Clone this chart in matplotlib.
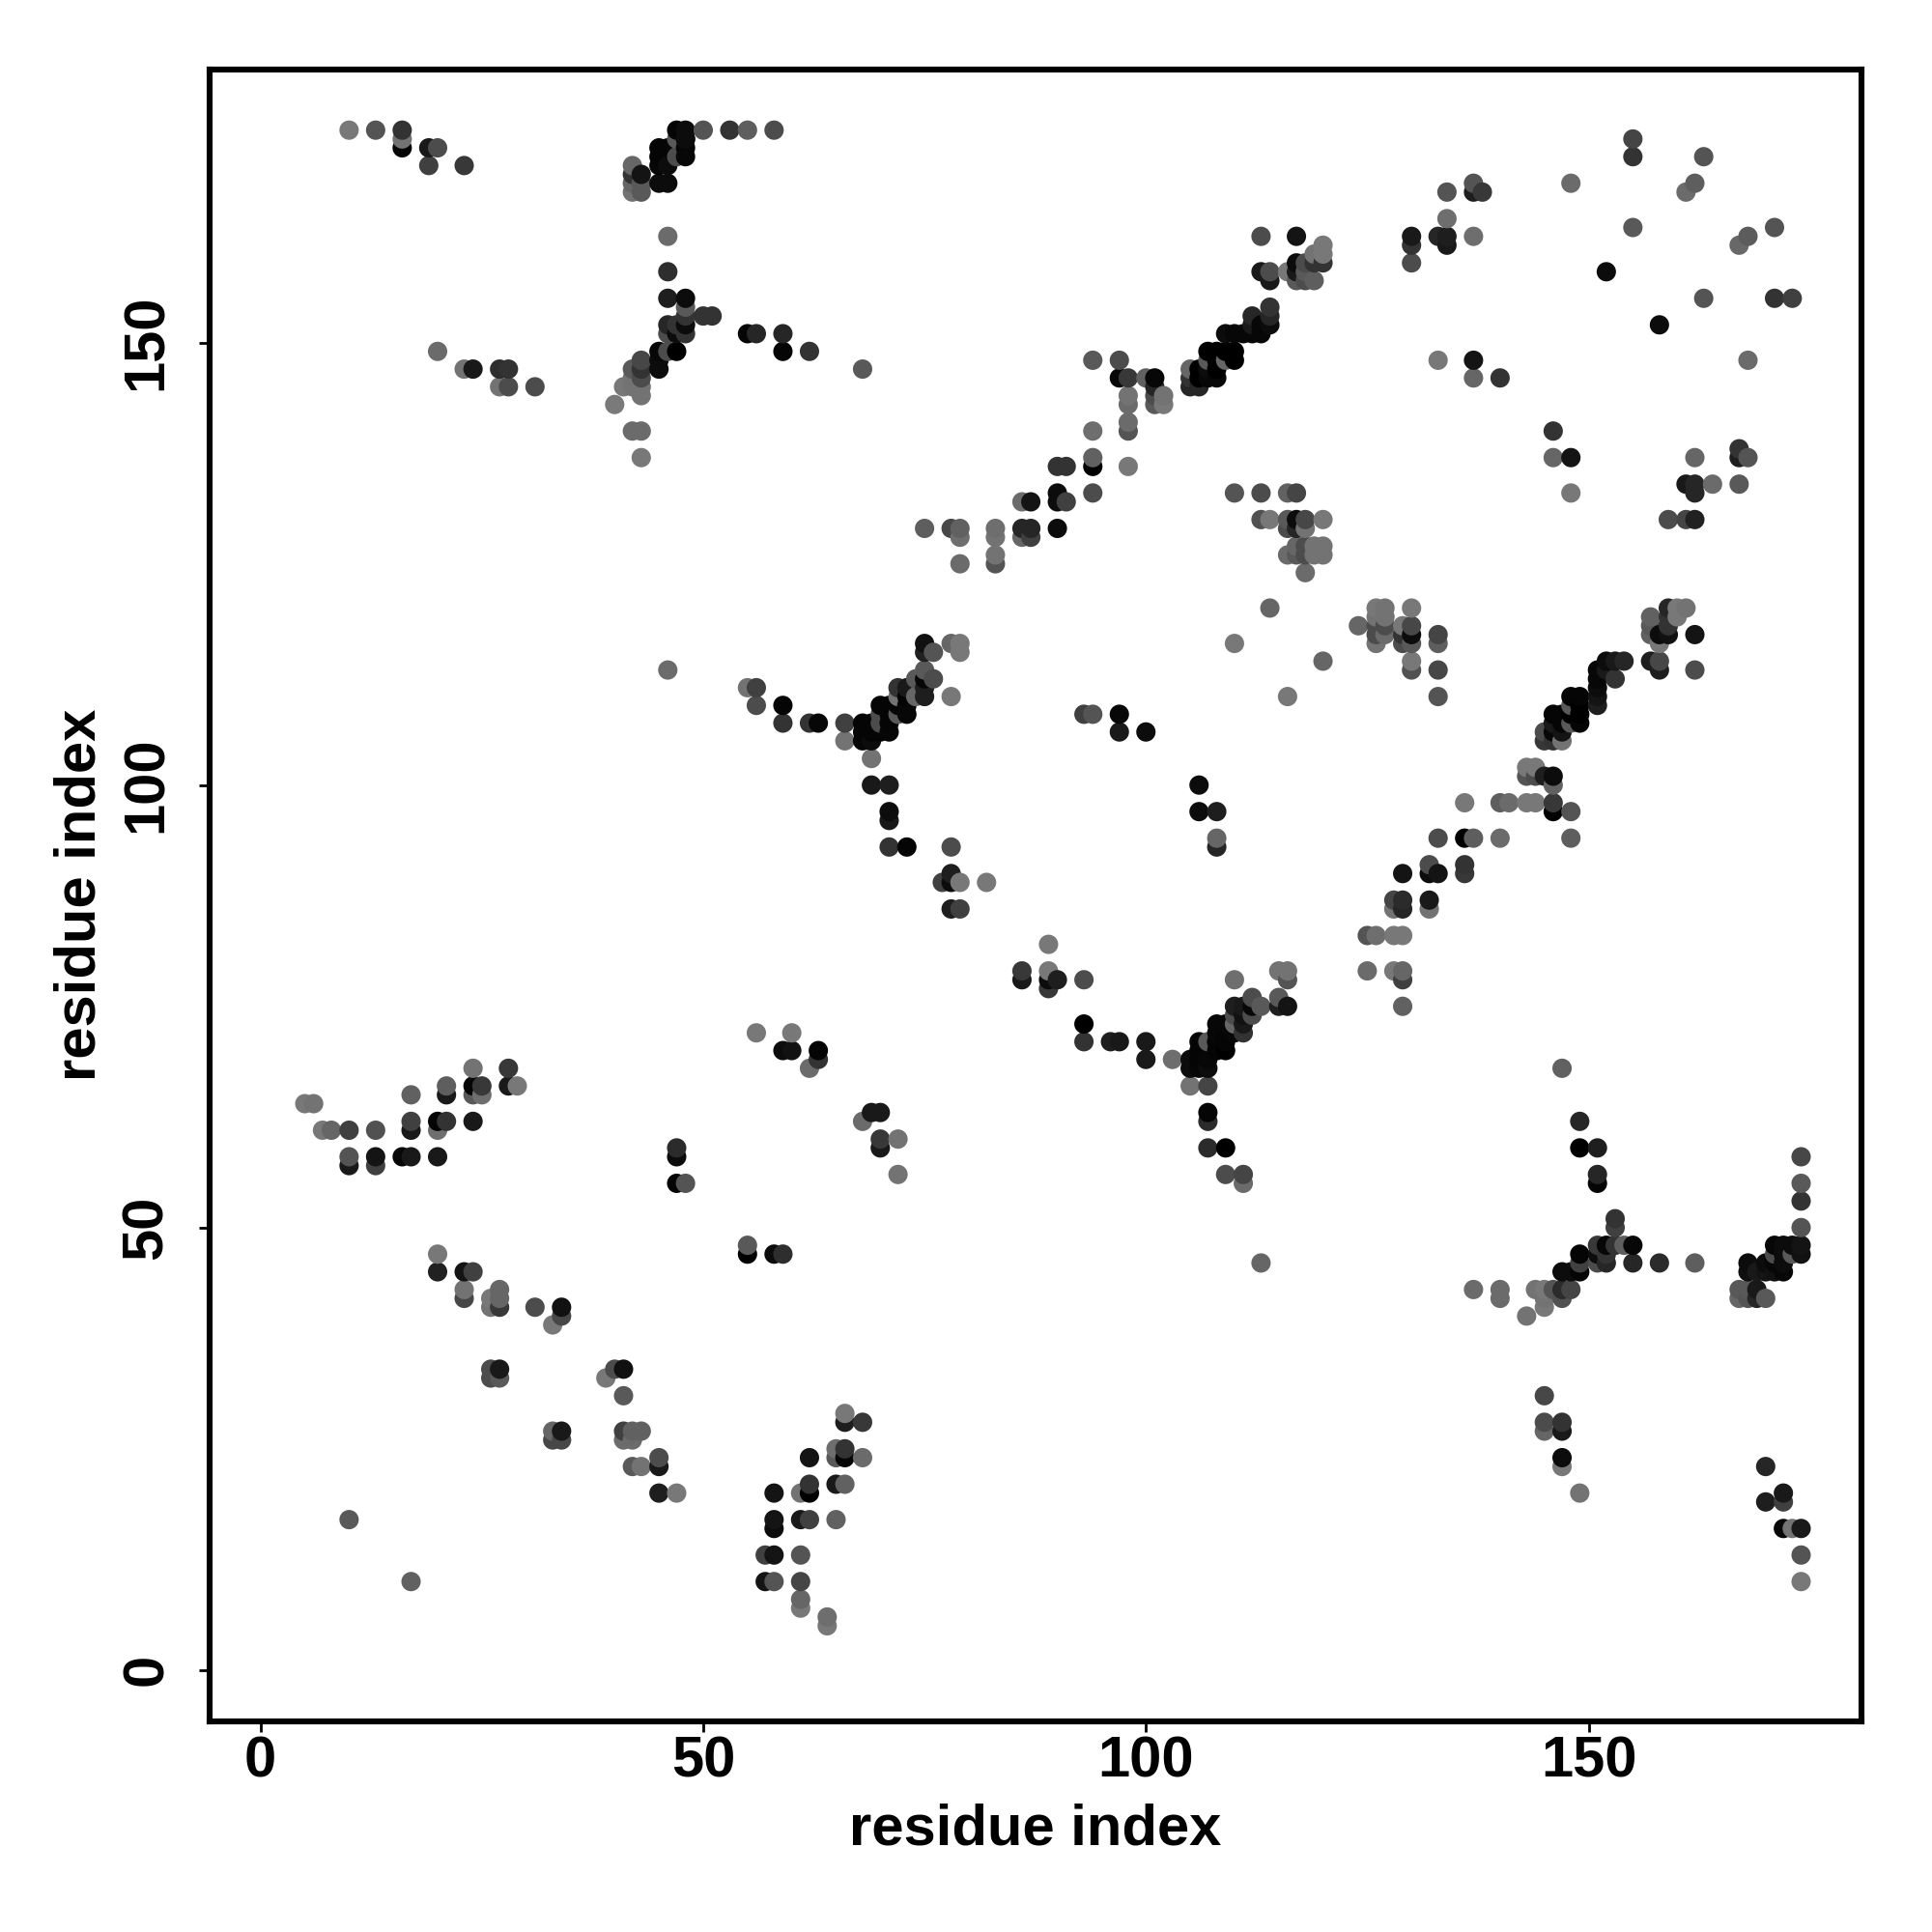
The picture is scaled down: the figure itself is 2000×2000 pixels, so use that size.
import numpy as np
import matplotlib
matplotlib.use('Agg')
import matplotlib.pyplot as plt

plt.rcParams['font.family'] = ['Liberation Sans', 'DejaVu Sans']

# contacts. shade: 0 black .. 1 white
top_left_x = [10,13,16,16,16,19,20,19,23, 20,23,24,27,28,27,28,31]
top_left_y = [174,174,174,173,172,172,172,170,170, 149,147,147,147,147,145,145,145]
top_left_s = [.47,.33,.2,.45,.02,.1,.3,.25,.22, .42,.45,.1,.18,.2,.45,.3,.3]

top_mid_x = [47,48,50,53,55,58,47,48,48,48,48,47,45,46,45,45,46,45,46,
             42,42,43,42,43,42,43,46,46,46,48,48,48,50,51,46,47,48,46,47,48,55,56,59,59,62,68,
             45,46,47,45,45,43,42,43,43,42,41,42,43,43,40,42,43,43]
top_mid_y = [174,174,174,174,174,174,173,173,172,171,173,171,172,172,171,170,170,168,168,
             170,169,169,168,168,167,167,162,158,155,155,154,153,153,153,152,152,152,151,151,151,151,151,151,149,149,147,
             149,149,149,148,147,148,147,147,146,146,145,145,145,144,143,140,140,137]
top_mid_s = [.02,.05,.33,.2,.37,.3,.35,.05,.03,.03,.05,.3,.02,.02,.02,.03,.05,.05,.05,
             .4,.2,.08,.4,.35,.45,.35,.42,.18,.12,.05,.35,.2,.2,.2,.15,.2,.05,.3,.05,.2,.02,.15,.15,.02,.2,.35,
             .03,.3,.0,.05,.05,.28,.35,.2,.3,.45,.47,.45,.45,.45,.48,.42,.42,.47]

upper_diag_x = [75,78,79,79,79,83,83,83,83,86,87,86,87,86,87,90,90,91,90,90,91,94,94,94,94,98,98,98,98,98,98,97,97,94,
                100,101,101,101,101,102,102,105,105,105,106,106,106,107,107,108,108,107,107,108,108,109,109,110,110]
upper_diag_y = [129,129,129,128,125,129,128,126,125,132,132,129,129,128,128,133,132,132,129,136,136,136,137,140,133,136,140,141,143,144,146,146,148,148,
                146,146,145,144,143,144,143,147,146,145,145,147,146,146,147,146,147,148,149,149,148,149,148,149,148]
upper_diag_s = [.37,.28,.38,.43,.42,.43,.45,.45,.33,.42,.08,.15,.15,.4,.25,.05,.05,.25,.05,.2,.2,0,.38,.43,.3,.47,.33,.42,.42,.45,.22,.03,.3,.35,
                .38,.03,.15,.3,.35,.45,.47,.4,.2,.15,.15,0,0,.03,.05,.03,0,.35,0,0,0,0,.4,0,0]

upper_tail_x = [109,110,111,112,113,112,112,113,114,114,114,113,114,114,113,117,116,117,117,117,118,118,118,119,119,119,120,120,120]
upper_tail_y = [151,151,151,151,151,153,152,152,152,153,154,158,158,157,162,162,158,159,158,157,159,158,157,160,159,157,161,160,159]
upper_tail_s = [.05,.03,.03,.03,.03,.15,.1,.03,.05,.15,.2,.1,.3,.1,.3,.08,.47,.05,.1,.35,.3,.35,.3,.45,.2,.37,.47,.47,.2]

block_x = [110,113,116,117,148,113,114,116,117,118,120,116,117,118,117,118,119,120,116,117,118,119,120,118,114,110,120,116]
block_y = [133,133,133,133,133,130,130,130,130,130,130,129,129,129,127,127,127,127,126,126,126,126,126,124,120,116,114,110]
block_s = [.33,.3,.38,.27,.47,.32,.47,.35,.05,.28,.47,.3,.15,.45,.4,.3,.45,.45,.42,.35,.3,.45,.45,.42,.4,.47,.4,.47]

block2_x = [124,126,127,130,126,127,126,127,126,127,126,129,130,129,130,129,130,133,133,130,130,133,133]
block2_y = [118,120,120,120,119,119,118,118,117,117,116,118,118,117,117,116,116,117,116,114,113,113,110]
block2_s = [.4,.47,.45,.47,.45,.45,.3,.3,.3,.42,.45,.47,.28,.2,.05,.3,.35,.27,.37,.47,.32,.28,.33]

right_diag_x = [159,160,161,157,159,160,157,159,157,158,159,162,158,157,158,158,162,152,153,154,151,152,151,153,151,151,151,
                148,149,148,149,149,148,148,149,146,147,146,147,145,146,147,145,146,147,
                143,144,143,144,145,146,146,136,140,141,143,144,146,146,148,
                133,136,137,140,148,132,132,133,129,136,136,128,129,132,128,129,132,
                125,126,128,129,125,128,129,129,129]
right_diag_y = [120,120,120,119,119,119,118,118,117,117,117,117,116,114,114,113,113,114,114,114,113,113,112,112,111,110,109,
                110,110,109,109,108,108,107,107,108,108,107,107,106,106,106,105,105,105,
                102,102,101,101,101,101,100,98,98,98,98,98,98,97,97,
                94,94,94,94,94,91,90,90,90,91,90,87,87,87,86,86,86,
                83,83,83,83,79,79,79,78,75]
right_diag_s = [.15,.47,.45,.38,.2,.47,.35,.2,.38,.05,.07,.08,.47,.12,.28,.12,.3,.05,.1,.15,.03,.1,.03,.2,.05,.08,.12,
                .02,.02,.35,0,0,0,.35,.02,.02,.02,.1,.02,.3,.03,.08,.22,.2,.45,
                .47,.47,.33,.3,.12,.05,.38,.47,.37,.42,.47,.47,.22,0,.33,
                .3,0,.37,.42,.37,.3,.05,.08,.08,.2,.22,.27,.17,.1,.45,.15,.45,
                .33,.43,.47,.47,.42,.47,.4,.25,.38]

top_right_x = [130,130,130,133,134,134,134,134,137,137,138,137,148,155,155,163,162,161,155,152,163,171,173,158,168,167,171,168,133,137,137,140,
               146,146,148,162,167,167,168,161,162,162,164,167,159,161,162]
top_right_y = [162,161,159,162,162,161,164,167,168,167,167,162,168,173,171,171,168,167,163,158,155,155,155,152,162,161,163,148,148,148,146,146,
               140,137,137,137,138,137,137,134,134,133,134,134,130,130,130]
top_right_s = [.1,.2,.3,.15,.12,.1,.43,.33,.33,.12,.22,.43,.42,.27,.2,.33,.37,.42,.35,.05,.33,.2,.25,.05,.36,.41,.33,.42,.47,.08,.4,.2,
               .2,.4,.08,.4,.2,.12,.33,.1,.15,.15,.42,.35,.3,.27,.13]

mid_x = [46,55,56,56,59,59,62,63,66,66,69,69,71,71,71,71,73,78,78,77,78,79,82,78,79,
         68,68,68,69,69,70,71,70,69,70,71,70,71,71,72,73,72,73,72,73,72,73,74,75,74,75,75,75,76,75,75,76,78,79,79,78,
         93,94,97,97,100,106,106,108,108,108]
mid_y = [113,111,111,109,109,107,107,107,107,105,103,100,100,97,96,93,93,93,90,89,89,89,89,86,86,
         107,106,105,105,106,106,106,107,107,109,109,108,108,107,108,108,109,109,111,111,110,110,110,110,112,113,112,111,112,116,115,115,116,116,115,110,
         108,108,108,106,106,100,97,97,94,93]
mid_s = [.42,.45,.25,.3,.02,.2,.2,.03,.25,.45,.45,.1,.12,.05,.1,.2,.02,.3,.12,.25,.05,.47,.47,.12,.25,
         .02,.02,.03,.05,.02,.02,.03,.3,.02,.02,.02,.3,.02,.02,.35,.03,.02,.03,.2,.1,.45,.02,.4,.12,.35,.35,.03,.12,.3,.07,.13,.33,.4,.47,.47,.47,
         .25,.33,.03,.1,.05,.05,.05,.12,.4,.15]

low_mid_x = [56,60,59,60,63,63,62,68,69,70,70,72,70,72,
             86,86,89,89,89,90,89,93,93,93,96,97,100,100,103,
             105,105,106,106,107,106,106,107,107,108,108,109,108,108,109,108,109,110,110,110,110,109,111,111,111,111,112,112,112,113,
             115,115,116,115,116,116,110,105,107,107,107,107,109,109,111,111,113]
low_mid_y = [72,72,70,70,70,69,68,62,63,63,60,60,59,56,
             79,78,82,79,78,78,77,78,73,71,71,71,71,69,69,
             69,68,71,70,71,69,68,69,68,73,72,72,70,71,70,71,71,75,74,73,72,73,75,74,73,72,76,74,75,75,
             76,75,75,79,79,78,78,66,66,63,62,59,59,56,56,55,46]
low_mid_s = [.47,.47,.05,.07,.02,.2,.42,.42,.1,.1,.22,.45,.1,.45,
             .22,.1,.47,.47,.05,.12,.22,.3,0,.2,.12,.1,.1,.1,.43,
             .05,.05,.02,.02,.35,.02,.03,.03,.05,.03,.03,.02,.02,.03,0,.02,.02,.12,.3,.4,.03,.03,.1,.07,.1,.2,.3,.3,.03,.35,
             .35,.12,.08,.45,.45,.33,.43,.45,.27,.02,.17,.17,0,.3,.27,.42,.4]

low_right_x = [147,149,149,151,151,151,153,153,174,174,174,174,174,174,173,173,172,172,172,171,171,171,172,171,170,170,168,168,169,
               167,168,169,167,168,169,170,137,140,140,143,144,145,145,145,146,147,147,148,147,148,149,149,149,
               151,151,151,152,152,152,153,154,155,155,158,162]
low_right_y = [68,62,59,59,56,55,51,50,58,55,53,50,48,47,48,47,48,47,46,48,47,46,45,45,46,45,46,45,45,
               43,43,43,42,42,42,42,43,43,42,40,43,43,42,41,43,43,42,43,45,45,45,46,47,
               48,47,46,48,47,46,48,48,48,46,46,46]
low_right_s = [.38,.15,0,.12,.15,.02,.2,.25,.28,.35,.2,.33,.08,.07,.05,.35,.05,.05,.05,.03,.3,.03,.03,.07,.05,.08,.05,.06,.1,
               .35,.35,.1,.4,.33,.15,.35,.42,.42,.42,.45,.45,.47,.45,.47,.33,.17,.32,.27,.05,.05,.02,.25,.02,
               .22,.05,.3,.03,.2,.15,.2,.37,.03,.15,.17,.37]

corner_x = [145,145,145,147,147,147,147,149,170,170,172,172,172,173,174,174,174]
corner_y = [31,28,27,28,27,24,23,20,23,19,20,19,16,16,16,13,10]
corner_s = [.28,.3,.4,.2,.1,.05,.47,.45,.15,.12,.1,.25,.03,.45,.1,.33,.47]

low_left_x = [5,6,7,8,10,13,10,10,13,13,16,17,20,17,17,17,20,21,20,24,21,21,24,24,25,24,25,28,28,29,
              20,20,23,24,23,23,26,27,27,26,27,31,34,34,33,26,27,26,27,
              40,41,39,41,33,34,33,34,41,42,43,41,42,42,43,45,45,45,47,47,47,47,48,55,55,58,59,10,17]
low_left_y = [64,64,61,61,61,61,58,57,58,57,58,58,58,65,62,61,62,62,61,62,66,65,68,66,66,65,65,68,66,66,
              47,45,45,45,43,42,42,43,42,41,41,41,41,40,39,34,34,33,33,
              34,34,33,31,27,27,26,26,27,27,27,26,26,23,23,24,23,20,20,59,58,55,55,48,47,47,47,17,10]
low_left_s = [.47,.45,.47,.4,.25,.32,.33,.1,.08,.25,.03,.1,.1,.38,.25,.1,.02,.2,.43,.1,.37,.1,.45,.02,.22,.35,.43,.22,.1,.47,
              .47,.13,.08,.25,.45,.28,.47,.4,.4,.45,.22,.3,.07,.28,.47,.3,.1,.3,.35,
              .3,.07,.47,.35,.4,.1,.28,.28,.25,.38,.38,.42,.42,.35,.45,.3,.1,.12,.47,.17,.05,.02,.33,.35,0,.05,.18,.35,.38]

bottom_x = [66,66,68,65,66,65,66,68,62,65,66,62,61,62,58,58,58,61,62,65,57,58,61,57,58,61,61,61,64,64]
bottom_y = [29,28,28,25,25,24,24,24,24,21,21,21,20,20,20,17,16,17,17,17,13,13,13,10,10,10,8,7,6,5]
bottom_s = [.47,.12,.22,.43,.2,.35,.03,.42,.08,.1,.38,.2,.45,0,.08,.08,.05,.1,.25,.38,.25,.08,.33,.08,.33,.27,.4,.47,.43,.47]

tick_vals = [0, 50, 100, 150]
axis_label = 'residue index'

xs = np.concatenate([top_left_x, top_mid_x, upper_diag_x, upper_tail_x, block_x, block2_x, right_diag_x,
                     top_right_x, mid_x, low_mid_x, low_right_x, corner_x, low_left_x, bottom_x])
ys = np.concatenate([top_left_y, top_mid_y, upper_diag_y, upper_tail_y, block_y, block2_y, right_diag_y,
                     top_right_y, mid_y, low_mid_y, low_right_y, corner_y, low_left_y, bottom_y])
shades = np.concatenate([top_left_s, top_mid_s, upper_diag_s, upper_tail_s, block_s, block2_s, right_diag_s,
                         top_right_s, mid_s, low_mid_s, low_right_s, corner_s, low_left_s, bottom_s])

# later x, then later y, is drawn on top
order = np.lexsort((ys, xs))

fig = plt.figure(figsize=(10, 10), dpi=200)
ax = fig.add_axes([217/2000, 1-1782/2000, 1710/2000, 1710.5/2000])
ax.scatter(xs[order], ys[order], s=52, c=shades[order], cmap='gray', vmin=0, vmax=1,
           linewidths=0, clip_on=True, zorder=3)
ax.set_xlim(-5.75, 180.82)
ax.set_ylim(-5.8, 180.9)

for spine in ax.spines.values():
    spine.set_linewidth(2.2)
ax.set_xticks(tick_vals)
ax.set_yticks(tick_vals)
ax.tick_params(axis='both', length=3.8, width=1.0, labelsize=21.5)
ax.tick_params(axis='x', pad=1.5)
ax.tick_params(axis='y', pad=9.5)
for lab in ax.get_xticklabels():
    lab.set_fontweight('bold')
for lab in ax.get_yticklabels():
    lab.set_fontweight('bold')
    lab.set_rotation(90)
    lab.set_va('center')

ax.set_xlabel(axis_label, fontsize=21.5, fontweight='bold')
ax.set_ylabel(axis_label, fontsize=21.5, fontweight='bold')
ax.xaxis.set_label_coords(0.5, -0.0496)
ax.yaxis.set_label_coords(-0.0625, 0.5)

fig.savefig('out.png', dpi=200, facecolor='white')
